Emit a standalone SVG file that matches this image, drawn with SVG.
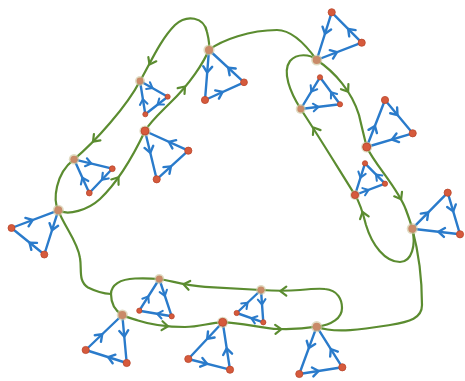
<svg xmlns="http://www.w3.org/2000/svg" width="465" height="381" viewBox="0 0 465 381">
<defs>
<style>
.g{fill:none;stroke:#5b8c30;stroke-width:2.2;stroke-linecap:round;stroke-linejoin:round}
.b{fill:none;stroke:#2a7bcb;stroke-width:2.4;stroke-linecap:round;stroke-linejoin:round}
.r{fill:#d65a3c;stroke:#b9462c;stroke-width:0.8}
.h{fill:#cfc7a2;opacity:0.65}
.n{fill:#c98a68}
</style>
<path id="c" d="M -6,-4.5 L 0,0 L -6,4.5"/>
</defs>
<rect width="465" height="381" fill="#ffffff"/>
<g id="connectors">
<path class="g" d="M 58.3,210.3 C 53,200 55,174 74,159.3 C 95,142 127,106 140,81 C 150,64 160,40 175,25 C 187,14 204,17 207,32 C 209,40 210,45 208.7,50 C 204,62 190,84 170,103 C 160,113 150,122 145,131 C 136,150 120,180 100,199 C 88,210 68,216 58.3,210.3 Z"/>
<path class="g" d="M 208.7,50 C 222,40 250,30 277,30 C 292,30 306,45 316.7,60"/>
<path class="g" d="M 316.7,60 C 335,72 352,92 359,115 C 362,128 365,140 366.7,147 C 375,165 398,188 406,210 C 409,218 411,224 412.3,228.7 C 416,245 412,262 400,262 C 385,262 372,245 366,225 C 363,213 360,203 355,195 C 338,168 318,135 300.7,109 C 290,92 282,72 290,61 C 297,53 310,54 316.7,60 Z"/>
<path class="g" d="M 412.3,228.7 C 418,250 422,280 422,305 C 422,318 410,322 390,325 C 365,329 335,334 316.7,326.7"/>
<path class="g" d="M 111,294 C 111,285 120,279 135,278.5 C 145,278.2 153,278.5 159.3,279 C 172,281 185,285.5 205,286.8 C 225,288 245,289 261,290 C 272,290.8 285,291.3 300,290 C 310,289 318,288.3 325,289 C 338,290 342,300 342,308 C 342,318 332,325 316.7,326.7 C 306,328.5 292,329.5 278,329 C 262,328.5 240,322 222.7,322.3 C 210,322.5 200,327 185,327 C 168,327 150,324.5 138,320.5 C 130,318 126,317 122.3,315 C 114,310 111,302 111,294 Z"/>
<path class="g" d="M 58.3,210.3 C 64,226 78,242 80,258 C 82,270 78,281 88,287.5 C 95,291 104,293.5 111,294"/>
<use href="#c" class="g" transform="translate(149.5,64.5) rotate(118)"/>
<use href="#c" class="g" transform="translate(93,141.6) rotate(134)"/>
<use href="#c" class="g" transform="translate(118.5,177.3) rotate(-53.7)"/>
<use href="#c" class="g" transform="translate(185,86.5) rotate(-49.5)"/>
<use href="#c" class="g" transform="translate(348.1,91.6) rotate(55.5)"/>
<use href="#c" class="g" transform="translate(401.1,199.3) rotate(60)"/>
<use href="#c" class="g" transform="translate(313.5,127.5) rotate(-122.5)"/>
<use href="#c" class="g" transform="translate(362.5,212) rotate(-108)"/>
<use href="#c" class="g" transform="translate(183.5,284.2) rotate(-169.2)"/>
<use href="#c" class="g" transform="translate(280.3,291.1) rotate(180)"/>
<use href="#c" class="g" transform="translate(168,326.3) rotate(6)"/>
<use href="#c" class="g" transform="translate(281.3,329.2) rotate(-2)"/>
</g>
<g id="t1">
<path class="b" d="M 209,50 L 205,100 L 244,82.3 Z"/>
<use href="#c" class="b" transform="translate(207.2,72.5) rotate(94.6)"/>
<use href="#c" class="b" transform="translate(222.55,92) rotate(-24.4)"/>
<use href="#c" class="b" transform="translate(228.25,67.8) rotate(-137.3)"/>
<circle class="r" cx="205" cy="100" r="3.6"/><circle class="r" cx="244" cy="82.3" r="3.4"/>
<circle class="h" cx="209" cy="50" r="5.6"/><circle class="n" cx="209" cy="50" r="4"/>
</g>
<g id="t2">
<path class="b" d="M 140,81 L 167.7,96.7 L 145.3,114.3 Z"/>
<use href="#c" class="b" transform="translate(152.5,88.1) rotate(29.5) scale(0.85)"/>
<use href="#c" class="b" transform="translate(157.6,104.6) rotate(141.8) scale(0.85)"/>
<use href="#c" class="b" transform="translate(142.9,99.3) rotate(-99) scale(0.85)"/>
<circle class="r" cx="167.7" cy="96.7" r="2.5"/><circle class="r" cx="145.3" cy="114.3" r="2.5"/>
<circle class="h" cx="140" cy="81" r="5"/><circle class="n" cx="140" cy="81" r="3.4"/>
</g>
<g id="t3">
<path class="b" d="M 145,131 L 188.3,150.7 L 156.7,179.3 Z"/>
<use href="#c" class="b" transform="translate(150.3,152.7) rotate(76.4)"/>
<use href="#c" class="b" transform="translate(170.9,166.4) rotate(-42.1)"/>
<use href="#c" class="b" transform="translate(168.8,141.8) rotate(-155.5)"/>
<circle class="r" cx="188.3" cy="150.7" r="3.6"/><circle class="r" cx="156.7" cy="179.3" r="3.6"/>
<circle class="h" cx="145" cy="131" r="5.6"/><circle class="r" cx="145" cy="131" r="4"/>
</g>
<g id="t4">
<path class="b" d="M 74,159.3 L 112.3,168.7 L 89.3,193 Z"/>
<use href="#c" class="b" transform="translate(91.2,163.5) rotate(13.8) scale(0.9)"/>
<use href="#c" class="b" transform="translate(102,179.6) rotate(133.4) scale(0.9)"/>
<use href="#c" class="b" transform="translate(82.4,177.8) rotate(-114.4) scale(0.9)"/>
<circle class="r" cx="112.3" cy="168.7" r="2.9"/><circle class="r" cx="89.3" cy="193" r="2.9"/>
<circle class="h" cx="74" cy="159.3" r="5.2"/><circle class="n" cx="74" cy="159.3" r="3.6"/>
</g>
<g id="t5">
<path class="b" d="M 58.3,210.3 L 11.5,228 L 44.3,254.5 Z"/>
<use href="#c" class="b" transform="translate(52,230.2) rotate(107.6)"/>
<use href="#c" class="b" transform="translate(29.5,242.6) rotate(-141.1)"/>
<use href="#c" class="b" transform="translate(32.6,220) rotate(-20.7)"/>
<circle class="r" cx="11.5" cy="228" r="3.5"/><circle class="r" cx="44.3" cy="254.5" r="3.5"/>
<circle class="h" cx="58.3" cy="210.3" r="5.6"/><circle class="n" cx="58.3" cy="210.3" r="4"/>
</g>
<g id="t6">
<path class="b" d="M 159.3,279 L 139.3,310.7 L 171.7,316.3 Z"/>
<use href="#c" class="b" transform="translate(164.9,295.8) rotate(71.6) scale(0.85)"/>
<use href="#c" class="b" transform="translate(157.1,313.8) rotate(-170.2) scale(0.85)"/>
<use href="#c" class="b" transform="translate(148.3,296.4) rotate(-57.8) scale(0.85)"/>
<circle class="r" cx="139.3" cy="310.7" r="2.6"/><circle class="r" cx="171.7" cy="316.3" r="2.6"/>
<circle class="h" cx="159.3" cy="279" r="5"/><circle class="n" cx="159.3" cy="279" r="3.4"/>
</g>
<g id="t7">
<path class="b" d="M 122.3,315 L 85.7,350 L 126.7,363 Z"/>
<use href="#c" class="b" transform="translate(124.3,336.6) rotate(84.8)"/>
<use href="#c" class="b" transform="translate(108.3,357.2) rotate(-162.4)"/>
<use href="#c" class="b" transform="translate(102.2,334.3) rotate(-43.7)"/>
<circle class="r" cx="85.7" cy="350" r="3.6"/><circle class="r" cx="126.7" cy="363" r="3.6"/>
<circle class="h" cx="122.3" cy="315" r="5.6"/><circle class="n" cx="122.3" cy="315" r="4"/>
</g>
<g id="t8">
<path class="b" d="M 222.7,322.3 L 188.3,359 L 230,369.7 Z"/>
<use href="#c" class="b" transform="translate(207.2,338.8) rotate(133.1)"/>
<use href="#c" class="b" transform="translate(207.1,363.8) rotate(14.4)"/>
<use href="#c" class="b" transform="translate(226.7,348.4) rotate(-98.8)"/>
<circle class="r" cx="188.3" cy="359" r="3.6"/><circle class="r" cx="230" cy="369.7" r="3.6"/>
<circle class="h" cx="222.7" cy="322.3" r="5.6"/><circle class="r" cx="222.7" cy="322.3" r="4"/>
</g>
<g id="t9">
<path class="b" d="M 261,290 L 236.7,313 L 263.3,322.3 Z"/>
<use href="#c" class="b" transform="translate(262,304.5) rotate(85.9) scale(0.85)"/>
<use href="#c" class="b" transform="translate(251.3,318.1) rotate(-160.7) scale(0.85)"/>
<use href="#c" class="b" transform="translate(247.6,302.7) rotate(-43.4) scale(0.85)"/>
<circle class="r" cx="236.7" cy="313" r="2.6"/><circle class="r" cx="263.3" cy="322.3" r="2.6"/>
<circle class="h" cx="261" cy="290" r="5"/><circle class="n" cx="261" cy="290" r="3.4"/>
</g>
<g id="t10">
<path class="b" d="M 316.7,326.7 L 299.3,374 L 342.3,367.3 Z"/>
<use href="#c" class="b" transform="translate(308.9,348) rotate(110.2)"/>
<use href="#c" class="b" transform="translate(318.6,371) rotate(-8.9)"/>
<use href="#c" class="b" transform="translate(330.8,349) rotate(-122.2)"/>
<circle class="r" cx="299.3" cy="374" r="3.6"/><circle class="r" cx="342.3" cy="367.3" r="3.6"/>
<circle class="h" cx="316.7" cy="326.7" r="5.6"/><circle class="n" cx="316.7" cy="326.7" r="4"/>
</g>
<g id="t11">
<path class="b" d="M 412.3,228.7 L 447.7,192.7 L 460,234.3 Z"/>
<use href="#c" class="b" transform="translate(428.2,212.5) rotate(-45.5)"/>
<use href="#c" class="b" transform="translate(453.2,211.4) rotate(73.5)"/>
<use href="#c" class="b" transform="translate(438.5,231.8) rotate(-173.3)"/>
<circle class="r" cx="447.7" cy="192.7" r="3.6"/><circle class="r" cx="460" cy="234.3" r="3.6"/>
<circle class="h" cx="412.3" cy="228.7" r="5.6"/><circle class="n" cx="412.3" cy="228.7" r="4"/>
</g>
<g id="t12">
<path class="b" d="M 355,195 L 365,163.3 L 385,183.7 Z"/>
<use href="#c" class="b" transform="translate(368.5,189.9) rotate(-20.6) scale(0.85)"/>
<use href="#c" class="b" transform="translate(376,174.5) rotate(-134.4) scale(0.85)"/>
<use href="#c" class="b" transform="translate(360.5,177.6) rotate(107.5) scale(0.85)"/>
<circle class="r" cx="365" cy="163.3" r="2.6"/><circle class="r" cx="385" cy="183.7" r="2.6"/>
<circle class="h" cx="355" cy="195" r="5"/><circle class="r" cx="355" cy="195" r="3.6"/>
</g>
<g id="t13">
<path class="b" d="M 366.7,147 L 385,100 L 412.7,133.3 Z"/>
<use href="#c" class="b" transform="translate(374.9,125.9) rotate(-68.7)"/>
<use href="#c" class="b" transform="translate(397.5,115) rotate(50.2)"/>
<use href="#c" class="b" transform="translate(392,139.5) rotate(163.4)"/>
<circle class="r" cx="385" cy="100" r="3.6"/><circle class="r" cx="412.7" cy="133.3" r="3.6"/>
<circle class="h" cx="366.7" cy="147" r="5.6"/><circle class="r" cx="366.7" cy="147" r="4"/>
</g>
<g id="t14">
<path class="b" d="M 300.7,109 L 320,77.3 L 340,104.3 Z"/>
<use href="#c" class="b" transform="translate(318.4,106.9) rotate(-6.8) scale(0.85)"/>
<use href="#c" class="b" transform="translate(331,92.2) rotate(-126.5) scale(0.85)"/>
<use href="#c" class="b" transform="translate(311.3,91.6) rotate(121.3) scale(0.85)"/>
<circle class="r" cx="320" cy="77.3" r="2.6"/><circle class="r" cx="340" cy="104.3" r="2.6"/>
<circle class="h" cx="300.7" cy="109" r="5"/><circle class="n" cx="300.7" cy="109" r="3.4"/>
</g>
<g id="t15">
<path class="b" d="M 316.7,60 L 331.7,12.3 L 361.7,42.7 Z"/>
<use href="#c" class="b" transform="translate(337,52.2) rotate(-21)"/>
<use href="#c" class="b" transform="translate(348.2,29) rotate(-134.6)"/>
<use href="#c" class="b" transform="translate(325,33.8) rotate(107.5)"/>
<circle class="r" cx="331.7" cy="12.3" r="3.6"/><circle class="r" cx="361.7" cy="42.7" r="3.6"/>
<circle class="h" cx="316.7" cy="60" r="5.6"/><circle class="n" cx="316.7" cy="60" r="4"/>
</g>
</svg>
